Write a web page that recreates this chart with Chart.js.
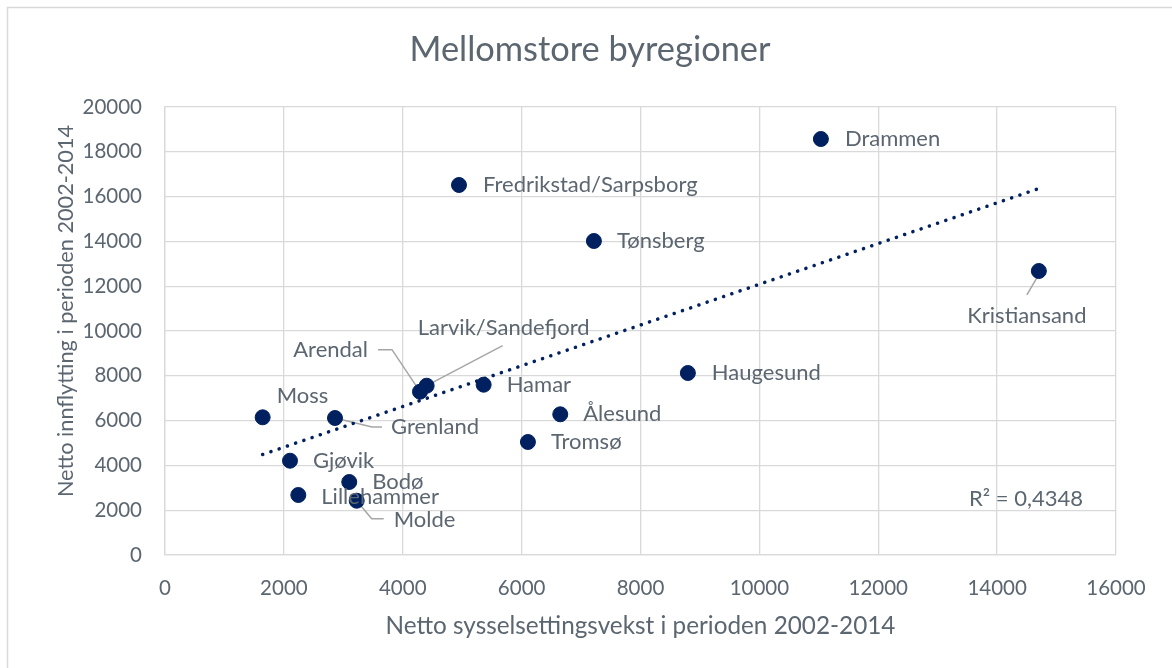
<!DOCTYPE html>
<html>
<head>
<meta charset="utf-8">
<script src="https://cdn.jsdelivr.net/npm/chart.js@4/dist/chart.umd.min.js"></script>
<style>
  html, body { margin: 0; padding: 0; background: #fff; }
  #wrap { width: 1172px; height: 668px; }
</style>
</head>
<body>
<div id="wrap"><canvas id="chart" width="1172" height="668"></canvas></div>
<script>
// Byregioner og verdier (lest av figuren)
const regions = [
    'Drammen', 'Fredrikstad/Sarpsborg', 'Tønsberg', 'Kristiansand', 'Haugesund',
    'Larvik/Sandefjord', 'Arendal', 'Hamar', 'Moss', 'Grenland',
    'Ålesund', 'Tromsø', 'Gjøvik', 'Bodø', 'Lillehammer', 'Molde'
];

// Netto sysselsettingsvekst 2002-2014
const employmentGrowth = [
    11035, 4946, 7216, 14702, 8797,
    4402, 4290, 5361, 1643, 2860,
    6650, 6106, 2103, 3100, 2243, 3225
];

// Netto innflytting 2002-2014
const netMigration = [
    18571, 16518, 14018, 12679, 8125,
    7558, 7290, 7603, 6147, 6116,
    6281, 5045, 4210, 3259, 2679, 2424
];

const xTicks = [0, 2000, 4000, 6000, 8000, 10000, 12000, 14000, 16000];
const yTicks = [0, 2000, 4000, 6000, 8000, 10000, 12000, 14000, 16000, 18000, 20000];

const chartTitle = 'Mellomstore byregioner';
const yAxisTitle = 'Netto innflytting i perioden 2002-2014';
const rSquaredText = 'R² = 0,4348';

const FONT = 'Lato, "Open Sans", sans-serif';
const TEXT = '#5b6670';
const NAVY = '#002060';
const GRID = '#d9d9d9';

// Lineær trendlinje (minste kvadraters metode)
function linearFit(xs, ys) {
    const n = xs.length;
    const mx = xs.reduce((a, b) => a + b, 0) / n;
    const my = ys.reduce((a, b) => a + b, 0) / n;
    let sxy = 0, sxx = 0;
    for (let i = 0; i < n; i++) {
        sxy += (xs[i] - mx) * (ys[i] - my);
        sxx += (xs[i] - mx) * (xs[i] - mx);
    }
    const slope = sxy / sxx;
    return { slope: slope, intercept: my - slope * mx };
}
const fit = linearFit(employmentGrowth, netMigration);
const xMin = Math.min(...employmentGrowth);
const xMax = Math.max(...employmentGrowth);
const trendPoints = [
    { x: xMin, y: fit.intercept + fit.slope * xMin },
    { x: xMax, y: fit.intercept + fit.slope * xMax }
];

const points = regions.map((name, i) => ({ x: employmentGrowth[i], y: netMigration[i] }));

// Plassering av etiketter i piksler relativt til punktet
const labelPlacement = {
    'Drammen': { dx: 24, dy: 0 },
    'Fredrikstad/Sarpsborg': { dx: 24, dy: 0 },
    'Tønsberg': { dx: 23, dy: 0 },
    'Kristiansand': { dx: -12, dy: 45, align: 'center', leader: [[-2, 7], [-12, 24]] },
    'Haugesund': { dx: 24, dy: 0 },
    'Larvik/Sandefjord': { dx: 77, dy: -58, align: 'center', leader: [[0, 0], [76, -40]] },
    'Arendal': { dx: -52, dy: -42, align: 'right', leader: [[0, 0], [-28, -42], [-42, -42]] },
    'Hamar': { dx: 23, dy: 0 },
    'Moss': { dx: 14, dy: -21 },
    'Grenland': { dx: 56, dy: 9, leader: [[0, 0], [37, 9], [47, 9]] },
    'Ålesund': { dx: 23, dy: 0 },
    'Tromsø': { dx: 23, dy: 0 },
    'Gjøvik': { dx: 23, dy: 0 },
    'Bodø': { dx: 23, dy: 0 },
    'Lillehammer': { dx: 23, dy: 2 },
    'Molde': { dx: 37, dy: 19, leader: [[0, 0], [15, 18], [27, 18]] }
};

const frameAndLeaders = {
    id: 'frameAndLeaders',
    beforeDraw(chart) {
        const ctx = chart.ctx;
        ctx.save();
        ctx.strokeStyle = GRID;
        ctx.lineWidth = 1.5;
        ctx.strokeRect(7.5, 7.5, 1300, 800);
        ctx.restore();
    },
    beforeDatasetsDraw(chart) {
        const ctx = chart.ctx;
        const meta = chart.getDatasetMeta(1);
        ctx.save();
        ctx.strokeStyle = '#a6a6a6';
        ctx.lineWidth = 1.5;
        meta.data.forEach((el, i) => {
            const p = labelPlacement[regions[i]];
            if (!p || !p.leader) return;
            ctx.beginPath();
            p.leader.forEach((pt, k) => {
                const px = el.x + pt[0], py = el.y + pt[1];
                if (k === 0) ctx.moveTo(px, py); else ctx.lineTo(px, py);
            });
            ctx.stroke();
        });
        ctx.restore();
    },
    afterDatasetsDraw(chart) {
        const ctx = chart.ctx;
        const meta = chart.getDatasetMeta(1);
        ctx.save();
        ctx.fillStyle = TEXT;
        ctx.font = '22px ' + FONT;
        ctx.textBaseline = 'middle';
        meta.data.forEach((el, i) => {
            const p = labelPlacement[regions[i]] || { dx: 23, dy: 0 };
            ctx.textAlign = p.align || 'left';
            ctx.fillText(regions[i], el.x + p.dx, el.y + p.dy);
        });
        // R²-tekst
        ctx.textAlign = 'right';
        ctx.fillText(rSquaredText, 1083, 499);
        ctx.restore();
    },
    afterDraw(chart) {
        const ctx = chart.ctx;
        ctx.save();
        ctx.fillStyle = TEXT;
        ctx.textAlign = 'center';
        ctx.textBaseline = 'middle';
        // diagramtittel, midtstilt på hele figuren
        ctx.font = '34.4px ' + FONT;
        ctx.fillText(chartTitle, 590, 50);
        // y-aksetittel, litt over midten av plottet som i Excel
        ctx.translate(66, 311);
        ctx.rotate(-Math.PI / 2);
        ctx.font = '21.7px ' + FONT;
        ctx.fillText(yAxisTitle, 0, 0);
        ctx.restore();
    }
};

new Chart(document.getElementById('chart').getContext('2d'), {
    type: 'scatter',
    data: {
        datasets: [
            {
                type: 'line',
                label: 'Lineær trendlinje',
                data: trendPoints,
                borderColor: NAVY,
                borderWidth: 3.5,
                borderDash: [0.1, 8.6],
                borderCapStyle: 'round',
                pointRadius: 0,
                fill: false
            },
            {
                label: chartTitle,
                data: points,
                backgroundColor: NAVY,
                borderColor: NAVY,
                pointRadius: 7.5,
                pointHoverRadius: 8
            }
        ]
    },
    options: {
        responsive: false,
        animation: false,
        layout: { padding: { left: 0, right: 56, top: 107, bottom: 0 } },
        plugins: {
            legend: { display: false },
            tooltip: { enabled: false },
            title: { display: false }
        },
        scales: {
            x: {
                type: 'linear',
                min: 0,
                max: 16000,
                afterBuildTicks: (scale) => { scale.ticks = xTicks.map(v => ({ value: v })); },
                afterFit: (scale) => { scale.height = 113; },
                grid: { color: GRID, lineWidth: 1.3, drawTicks: false },
                border: { color: GRID, width: 1.3 },
                ticks: {
                    color: TEXT,
                    padding: 21,
                    maxRotation: 0,
                    font: { family: FONT, size: 20.5 },
                    callback: (v) => String(v)
                },
                title: {
                    display: true,
                    text: 'Netto sysselsettingsvekst i perioden 2002-2014',
                    color: TEXT,
                    font: { family: FONT, size: 24.3 },
                    padding: { top: 0, bottom: 27 }
                }
            },
            y: {
                type: 'linear',
                min: 0,
                max: 20000,
                afterBuildTicks: (scale) => { scale.ticks = yTicks.map(v => ({ value: v })); },
                afterFit: (scale) => { scale.width = 165; },
                grid: { color: GRID, lineWidth: 1.3, drawTicks: false },
                border: { color: GRID, width: 1.3 },
                ticks: {
                    color: TEXT,
                    padding: 23,
                    font: { family: FONT, size: 20.5 },
                    callback: (v) => String(v)
                },
                title: { display: false }
            }
        }
    },
    plugins: [frameAndLeaders]
});
</script>
</body>
</html>
